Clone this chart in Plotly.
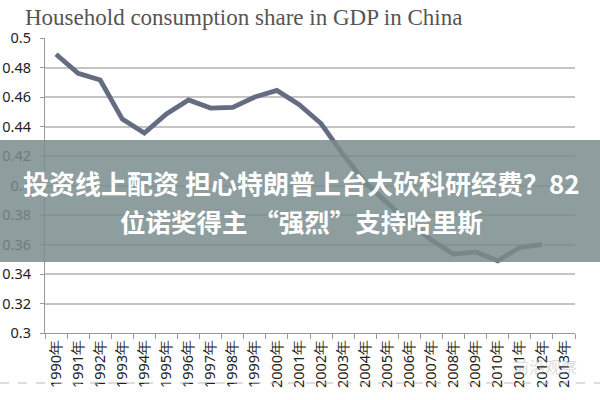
import plotly.graph_objects as go

years = [f"{y}年" for y in range(1990, 2014)]
share = [0.489, 0.476, 0.4715, 0.445, 0.4355, 0.4485, 0.458, 0.4525, 0.453, 0.460,
         0.4645, 0.455, 0.442, 0.421, 0.402, 0.388, 0.3745, 0.363, 0.3535, 0.355,
         0.349, 0.358, 0.360, None]
y_ticks = [0.3, 0.32, 0.34, 0.36, 0.38, 0.4, 0.42, 0.44, 0.46, 0.48, 0.5]
y_labels = ["0.3", "0.32", "0.34", "0.36", "0.38", "0.4", "0.42", "0.44", "0.46", "0.48", "0.5"]
title_text = "Household consumption share in GDP in China"
banner_line1 = "投资线上配资 担心特朗普上台大砍科研经费？82"
banner_line2 = "位诺奖得主 “强烈”支持哈里斯"
watermark = "前沿观察"

W, H = 600, 400
PL, PR, PT, PB = 45, 575, 38, 333   # plot area in window pixels
L, T = PL, PT
R, B = W - PR, H - PB
pw, ph = W - L - R, H - T - B

def px_x(x):
    return (x - L) / pw

def px_y(y):
    return (H - B - y) / ph

fig = go.Figure()
fig.add_trace(go.Scatter(
    x=years, y=share, mode="lines",
    line=dict(color="#646c82", width=4.8),
    connectgaps=False, hoverinfo="skip", showlegend=False,
))

fig.update_layout(
    width=W, height=H,
    margin=dict(l=L, r=R, t=T, b=B, autoexpand=False),
    paper_bgcolor="white", plot_bgcolor="white",
    title=dict(text=title_text, x=25 / W, xref="container", xanchor="left",
               y=1 - 17 / H, yanchor="middle", automargin=False,
               font=dict(family="Liberation Serif", size=23, color="#555555")),
    xaxis=dict(
        type="category", tickson="boundaries", ticks="outside", ticklen=5,
        tickcolor="#999999", showline=True, linecolor="#999999", linewidth=1.2,
        showgrid=False, tickangle=-90, automargin=False,
        tickfont=dict(family="Noto Sans", size=14.5, color="#222222"),
        range=[-0.5, len(years) - 0.5],
    ),
    yaxis=dict(
        range=[0.3, 0.5], tickvals=y_ticks, ticktext=y_labels,
        ticks="outside", ticklen=4, tickcolor="#999999", automargin=False,
        showline=True, linecolor="#999999", linewidth=1.2,
        showgrid=True, gridcolor="#c4c4c4", gridwidth=1.5,
        tickfont=dict(family="Noto Sans", size=14.5, color="#222222"),
        ticklabelstandoff=6, zeroline=False,
    ),
)

# gray translucent banner across the whole width
fig.add_shape(type="rect", xref="paper", yref="paper",
              x0=px_x(0), x1=px_x(W), y0=px_y(262), y1=px_y(140),
              fillcolor="rgba(122,140,140,0.85)", line=dict(width=0), layer="above")

fig.add_annotation(text="<b>" + banner_line1 + "</b>", xref="paper", yref="paper",
                   x=px_x(301), y=px_y(182), xanchor="center", yanchor="middle",
                   showarrow=False,
                   font=dict(family="Noto Sans CJK SC", size=26, color="white"))
fig.add_annotation(text="<b>" + banner_line2 + "</b>", xref="paper", yref="paper",
                   x=px_x(301), y=px_y(220), xanchor="center", yanchor="middle",
                   showarrow=False,
                   font=dict(family="Noto Sans CJK SC", size=25.5, color="white"))

# dashed separator line near the bottom
fig.add_shape(type="line", xref="paper", yref="paper",
              x0=px_x(0), x1=px_x(W), y0=px_y(383), y1=px_y(383),
              line=dict(color="#bbbbbb", width=1, dash="dash"), layer="above")

# faint watermark
fig.add_annotation(text=watermark, xref="paper", yref="paper",
                   x=px_x(545), y=px_y(366), xanchor="center", yanchor="middle",
                   showarrow=False, opacity=0.35,
                   font=dict(family="Noto Sans CJK SC", size=16, color="#999999"))

fig.write_html("out.html",
               config={"displayModeBar": False},
               post_script="document.body.style.margin='0';document.body.style.overflow='hidden';")
